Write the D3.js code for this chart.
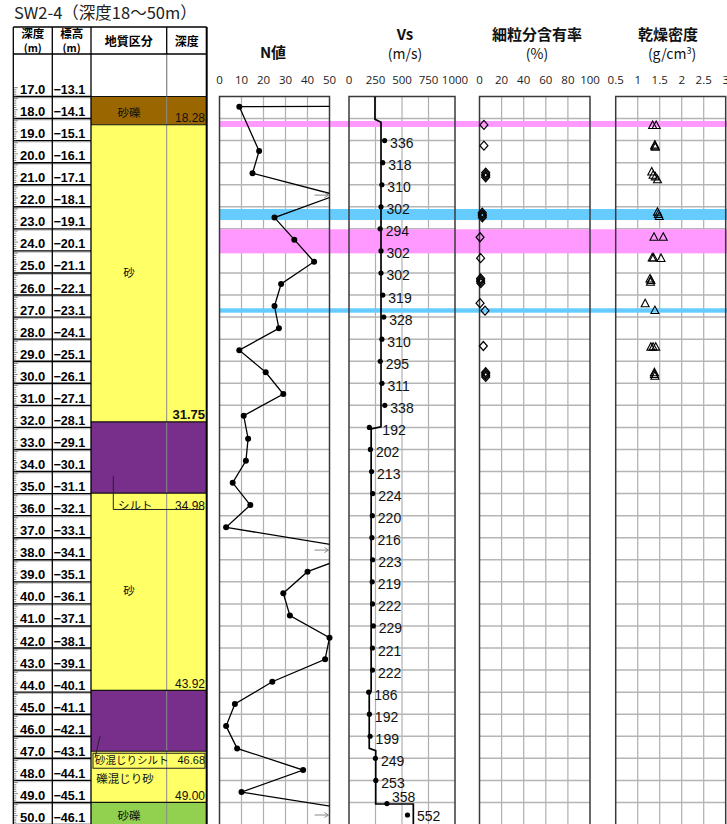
<!DOCTYPE html>
<html><head><meta charset="utf-8">
<script src="https://cdn.jsdelivr.net/npm/d3@7"></script>
<style>body{margin:0;background:#fff}svg{display:block}</style>
</head><body><svg id="c" width="727" height="824"></svg>
<script>
// ---------- DATA ----------
const depthLabels = ["17.0","18.0","19.0","20.0","21.0","22.0","23.0","24.0","25.0","26.0","27.0","28.0","29.0","30.0","31.0","32.0","33.0","34.0","35.0","36.0","37.0","38.0","39.0","40.0","41.0","42.0","43.0","44.0","45.0","46.0","47.0","48.0","49.0","50.0"];
const elevLabels = ["−13.1","−14.1","−15.1","−16.1","−17.1","−18.1","−19.1","−20.1","−21.1","−22.1","−23.1","−24.1","−25.1","−26.1","−27.1","−28.1","−29.1","−30.1","−31.1","−32.1","−33.1","−34.1","−35.1","−36.1","−37.1","−38.1","−39.1","−40.1","−41.1","−42.1","−43.1","−44.1","−45.1","−46.1"];

const layerTop    = [17, 18.28, 31.75, 34.98, 43.92, 46.68, 49.00];
const layerBottom = [18.28, 31.75, 34.98, 43.92, 46.68, 49.00, 50];
const layerName   = ["砂礫","砂","シルト","砂","砂混じりシルト","礫混じり砂","砂礫"];
const layerKind   = ["gravelBrown","sand","silt","sand","silt","sand","gravelGreen"];
const layerDepthText = ["18.28","31.75","34.98","43.92","46.68","49.00",""];

const bandTop    = [18.11, 22.10, 23.02, 26.60];
const bandBottom = [18.38, 22.60, 24.11, 26.80];
const bandKind   = ["pink","blue","pink","blue"];

const nDepth = [17.45,17.46,19.47,20.48,21.47,22.49,23.49,24.49,25.50,26.50,27.51,28.50,29.50,30.49,31.47,32.51,33.51,34.51,35.52,36.53,37.56,38.54,39.52,40.53,41.53,42.51,43.53,44.54,45.54,46.55,47.53,48.53,49.57];
const nValue = [60,9,18,15,53,25,34,43,28,25,27,9,21,29,11,13,12,6,14,3,66,40,29,32,50,48,24,7,3,8,38,10,76];

const vsDepth = [19,20,21,22,23,24,25,26,27,28,29,30,31,32,33,34,35,36,37,38,39,40,41,42,43,44,45,46,47,48,49.05,49.57];
const vsValue = [336,318,310,302,294,302,302,319,328,310,295,311,338,192,202,213,224,220,216,223,219,222,229,221,222,186,192,199,249,253,358,552];

const vsStepDepth = [17,18.03,18.17,31.97,32.07,43.96,44.02,46.55,46.65,49.07,49.07,50.5];
const vsStepValue = [245,245,302,302,209,209,191,191,252,252,607,607];

const fcDepth = [18.29,19.23,20.45,20.52,20.59,20.66,22.27,22.34,22.41,22.48,23.38,24.33,25.25,25.32,25.39,25.46,26.37,26.71,28.31,29.50,29.57,29.64,29.71];
const fcValue = [4,4,5.6,5.6,5.6,5.6,2.5,2.5,2.6,2.6,0.5,1,1,1,1,1.2,0.5,5,3.5,5.6,5.6,5.6,5.6];

const rdDepth = [18.29,18.29,19.18,19.23,19.28,20.40,20.55,20.62,20.75,22.22,22.32,22.42,23.36,23.36,24.30,24.30,24.32,25.25,25.32,25.40,26.37,26.68,28.34,28.34,28.34,29.50,29.58,29.66];
const rdValue = [1.34,1.42,1.39,1.39,1.40,1.32,1.35,1.40,1.45,1.45,1.47,1.49,1.37,1.58,1.33,1.36,1.53,1.28,1.30,1.29,1.17,1.39,1.30,1.35,1.41,1.38,1.38,1.39];

const nTicks = [0,10,20,30,40,50];
const vsTicks = [0,250,500,750,1000];
const fcTicks = [0,20,40,60,80,100];
const rdTicks = [0.5,1,1.5,2,2.5,3];
const rdTickLabels = ["0.5","1","1.5","2","2.5","3"];

// ---------- STYLE / LAYOUT ----------
const JP = "'Noto Sans CJK JP','Noto Sans',sans-serif";
const LAT = "'Liberation Sans',Arial,sans-serif";
const soilColor = {gravelBrown:"#996600", sand:"#FFFF66", silt:"#782F8C", gravelGreen:"#92D050"};
const bandColor = {pink:"#FF99FF", blue:"#66CCFF"};

const svg = d3.select("#c");
const y = d3.scaleLinear().domain([17,50]).range([96.5,824.5]);

// Title
svg.append("text").attr("x",14).attr("y",19).attr("font-family",JP).attr("font-size",16.5)
  .attr("fill","#222").text("SW2-4（深度18～50m）");

// ---------- LEFT TABLE ----------
const cx = [13.3, 52.3, 91, 166.7, 206.7];
const tableTop = 27, headBot = 54;
const L = svg.append("g");

layerTop.forEach((t,i)=>{
  L.append("rect").attr("x",cx[2]).attr("y",y(t)).attr("width",cx[4]-cx[2])
   .attr("height",y(layerBottom[i])-y(t)).attr("fill",soilColor[layerKind[i]]);
});
L.append("line").attr("x1",cx[3]).attr("x2",cx[3]).attr("y1",headBot).attr("y2",824).attr("stroke","#8a8a8a").attr("stroke-width",1);
layerBottom.slice(0,-1).forEach(b=>{
  L.append("line").attr("x1",cx[2]).attr("x2",cx[4]).attr("y1",y(b)).attr("y2",y(b)).attr("stroke","#111").attr("stroke-width",1.2);
});
L.append("line").attr("x1",cx[2]).attr("x2",cx[4]).attr("y1",y(17)).attr("y2",y(17)).attr("stroke","#111").attr("stroke-width",1);

depthLabels.forEach((lab,i)=>{
  const d = 17+i, yy = y(d);
  L.append("line").attr("x1",cx[0]).attr("x2",cx[2]).attr("y1",yy+1.3).attr("y2",yy+1.3).attr("stroke","#bbb").attr("stroke-width",1);
  L.append("line").attr("x1",cx[0]).attr("x2",cx[2]).attr("y1",yy).attr("y2",yy).attr("stroke","#000").attr("stroke-width",1.4);
  L.append("text").attr("x",20).attr("y",yy-2.5).attr("font-family",LAT).attr("font-weight","bold")
   .attr("font-size",13).attr("fill","#000").text(lab);
  L.append("text").attr("x",53.5).attr("y",yy-2.5).attr("font-family",LAT).attr("font-weight","bold")
   .attr("font-size",12.5).attr("fill","#000").text(elevLabels[i]);
});
for (let k=0;k<=340;k++){
  const d = 16.6 + k*0.1;
  if (d>50) break;
  const long = (k%5===0);
  L.append("line").attr("x1",cx[0]).attr("x2",cx[0]+(long?4.5:3)).attr("y1",y(d)).attr("y2",y(d))
   .attr("stroke","#333").attr("stroke-width",0.6);
}
cx.forEach((x,i)=>{
  L.append("line").attr("x1",x).attr("x2",x).attr("y1",tableTop).attr("y2", i===3?headBot+0.01:824)
   .attr("stroke","#000").attr("stroke-width", i===4?2:1.3);
});
L.append("line").attr("x1",cx[3]).attr("x2",cx[3]).attr("y1",headBot).attr("y2",y(17)).attr("stroke","#8a8a8a");
L.append("line").attr("x1",cx[0]).attr("x2",cx[4]).attr("y1",tableTop).attr("y2",tableTop).attr("stroke","#000").attr("stroke-width",1.3);
L.append("line").attr("x1",cx[0]).attr("x2",cx[4]).attr("y1",headBot).attr("y2",headBot).attr("stroke","#000").attr("stroke-width",1.3);

const hdr = (x,yy,t,fs)=>L.append("text").attr("x",x).attr("y",yy).attr("text-anchor","middle")
   .attr("font-family",JP).attr("font-weight","bold").attr("font-size",fs).attr("fill","#000").text(t);
hdr((cx[0]+cx[1])/2,38,"深度",11.5); hdr((cx[0]+cx[1])/2,52,"(m)",10.5);
hdr((cx[1]+cx[2])/2,38,"標高",11.5); hdr((cx[1]+cx[2])/2,52,"(m)",10.5);
hdr((cx[2]+cx[3])/2,46,"地質区分",12); hdr((cx[3]+cx[4])/2,46,"深度",12);

const lt = (x,yy,t,fs,anchor,w)=>L.append("text").attr("x",x).attr("y",yy).attr("text-anchor",anchor||"middle")
   .attr("font-family",JP).attr("font-weight",w||"normal").attr("font-size",fs).attr("fill","#111").text(t);
lt(129, y(17.75)+4, layerName[0], 11.5);
lt(129, y(25.0)+4, layerName[1], 11.5);
lt(118, y(34.98)+17, layerName[2], 11.5, "start");
lt(129, y(39.4)+4, layerName[3], 11.5);
lt(95, y(46.68)+13, layerName[4], 10.5, "start");
lt(125, y(47.95)+4, layerName[5], 11.5);
lt(129, y(49.6)+4, layerName[6], 11.5);
layerBottom.slice(0,-1).forEach((b,i)=>{
  const bold = (i===1);
  let yy = y(b)-2.5;
  if (i===2) yy = y(b)+17;
  if (i===4) yy = y(b)+13;
  L.append("text").attr("x",205).attr("y",yy).attr("text-anchor","end")
   .attr("font-family",LAT).attr("font-weight",bold?"bold":"normal").attr("font-size",bold?13:(i===4?11:12))
   .attr("fill","#111").text(layerDepthText[i]);
});
L.append("path").attr("d",`M113.3,${y(34.2)} V${y(35.72)} H204`).attr("fill","none").attr("stroke","#222").attr("stroke-width",1);
L.append("line").attr("x1",100).attr("y1",y(46.0)).attr("x2",95).attr("y2",y(46.98)).attr("stroke","#222");
L.append("rect").attr("x",93).attr("y",y(46.77)).attr("width",112).attr("height",15).attr("fill","none").attr("stroke","#222").attr("stroke-width",1);

// ---------- PANELS ----------
const panels = [
  {x0:219.5, x1:329.5, dom:[0,50], ticks:nTicks, labels:nTicks.map(String)},
  {x0:349, x1:455, dom:[0,1000], ticks:vsTicks, labels:vsTicks.map(String)},
  {x0:479.5, x1:590, dom:[0,100], ticks:fcTicks, labels:fcTicks.map(String)},
  {x0:615.7, x1:725.7, dom:[0.5,3], ticks:rdTicks, labels:rdTickLabels}
];
panels.forEach(p=>{ p.sc = d3.scaleLinear().domain(p.dom).range([p.x0,p.x1]); });
const yTop = y(17), yBot = y(50);
const hGrid = d3.range(18,50);

panels.forEach((p,pi)=>{
  const g = svg.append("g");
  p.ticks.slice(1,-1).forEach(t=>{
    g.append("line").attr("x1",p.sc(t)).attr("x2",p.sc(t)).attr("y1",yTop).attr("y2",yBot).attr("stroke","#b0b0b0").attr("stroke-width",1.2);
  });
  hGrid.forEach(d=>{
    g.append("line").attr("x1",p.x0).attr("x2",p.x1).attr("y1",y(d)).attr("y2",y(d)).attr("stroke","#b5b5b5").attr("stroke-width",1.5);
  });
  p.ticks.forEach((t,i)=>{
    g.append("text").attr("x",p.sc(t)).attr("y",84).attr("text-anchor","middle").attr("font-family","'Open Sans','Noto Sans',sans-serif")
     .attr("font-size",11.5).attr("fill","#222").text(p.labels[i]);
  });
});

const bands = svg.append("g");
bandTop.forEach((t,i)=>{
  bands.append("rect").attr("x",219.5).attr("y",y(t)).attr("width",727-219.5).attr("height",y(bandBottom[i])-y(t))
   .attr("fill",bandColor[bandKind[i]]);
});

panels.forEach(p=>{
  svg.append("rect").attr("x",p.x0).attr("y",yTop).attr("width",p.x1-p.x0).attr("height",yBot-yTop+5)
   .attr("fill","none").attr("stroke","#3a3a3a").attr("stroke-width",1.5);
});

const ttl = (x,yy,t,w,fs)=>svg.append("text").attr("x",x).attr("y",yy).attr("text-anchor","middle")
  .attr("font-family",JP).attr("font-weight",w).attr("font-size",fs).attr("fill","#111").text(t);
ttl(273,58,"N値","bold",15);
ttl(405,40,"Vs","bold",15); ttl(405,59,"(m/s)","normal",14);
ttl(537,40,"細粒分含有率","bold",15); ttl(537,59,"(%)","normal",14);
ttl(668,40,"乾燥密度","bold",15);
const gcm = svg.append("text").attr("x",672).attr("y",59).attr("text-anchor","middle").attr("font-family",JP).attr("font-size",14).attr("fill","#111");
gcm.append("tspan").text("(g/cm");
gcm.append("tspan").attr("font-size",9).attr("dy",-5).text("3");
gcm.append("tspan").attr("dy",5).text(")");

const defs = svg.append("defs");
panels.forEach((p,i)=>{
  defs.append("clipPath").attr("id","cp"+i).append("rect").attr("x",p.x0).attr("y",yTop).attr("width",p.x1-p.x0).attr("height",yBot-yTop+5);
});

// N value
const P0 = panels[0];
const nData = nDepth.map((d,i)=>({d, v:nValue[i]}));
const gN = svg.append("g");
gN.append("path").attr("clip-path","url(#cp0)").attr("d", d3.line().x(o=>P0.sc(o.v)).y(o=>y(o.d))(nData))
  .attr("fill","none").attr("stroke","#000").attr("stroke-width",1.3);
gN.selectAll("circle").data(nData.filter(o=>o.v<=50)).join("circle")
  .attr("cx",o=>P0.sc(o.v)).attr("cy",o=>y(o.d)).attr("r",3).attr("fill","#000");
nData.filter(o=>o.v>50 && o.d>18).forEach(o=>{
  const yy = y(o.d), xe = P0.x1-1;
  gN.append("path").attr("d",`M${xe-14},${yy} H${xe} M${xe-4},${yy-2.5} L${xe},${yy} L${xe-4},${yy+2.5}`)
   .attr("fill","none").attr("stroke","#888").attr("stroke-width",1);
});

// Vs
const P1 = panels[1];
const gV = svg.append("g");
gV.append("path").attr("clip-path","url(#cp1)")
  .attr("d", d3.line().x((v,i)=>P1.sc(v)).y((v,i)=>y(vsStepDepth[i]))(vsStepValue))
  .attr("fill","none").attr("stroke","#000").attr("stroke-width",1.7);
vsValue.forEach((v,i)=>{
  const px = P1.sc(v), py = y(vsDepth[i]);
  gV.append("circle").attr("cx",px).attr("cy",py).attr("r",2.6).attr("fill","#000");
  let lx = px+5.5, ly = py+7.5;
  if (i===13){ lx = px+13; }
  if (v===358){ lx = px+5; ly = py-1.5; }
  if (v===552){ lx = px+9.5; ly = py+6; }
  gV.append("text").attr("x",lx).attr("y",ly).attr("font-family",LAT).attr("font-size",14).attr("fill","#111").text(v);
});

// fines content
const P2 = panels[2];
const gF = svg.append("g");
fcValue.forEach((v,i)=>{
  gF.append("path").attr("transform",`translate(${P2.sc(v)},${y(fcDepth[i])})`)
   .attr("d","M0,-4.5 L4,0 L0,4.5 L-4,0 Z").attr("fill","none").attr("stroke","#000").attr("stroke-width",1.2);
});

// dry density
const P3 = panels[3];
const gR = svg.append("g");
rdValue.forEach((v,i)=>{
  gR.append("path").attr("transform",`translate(${P3.sc(v)},${y(rdDepth[i])})`)
   .attr("d","M0,-4 L4,3.5 L-4,3.5 Z").attr("fill","none").attr("stroke","#000").attr("stroke-width",1.1);
});
</script></body></html>
